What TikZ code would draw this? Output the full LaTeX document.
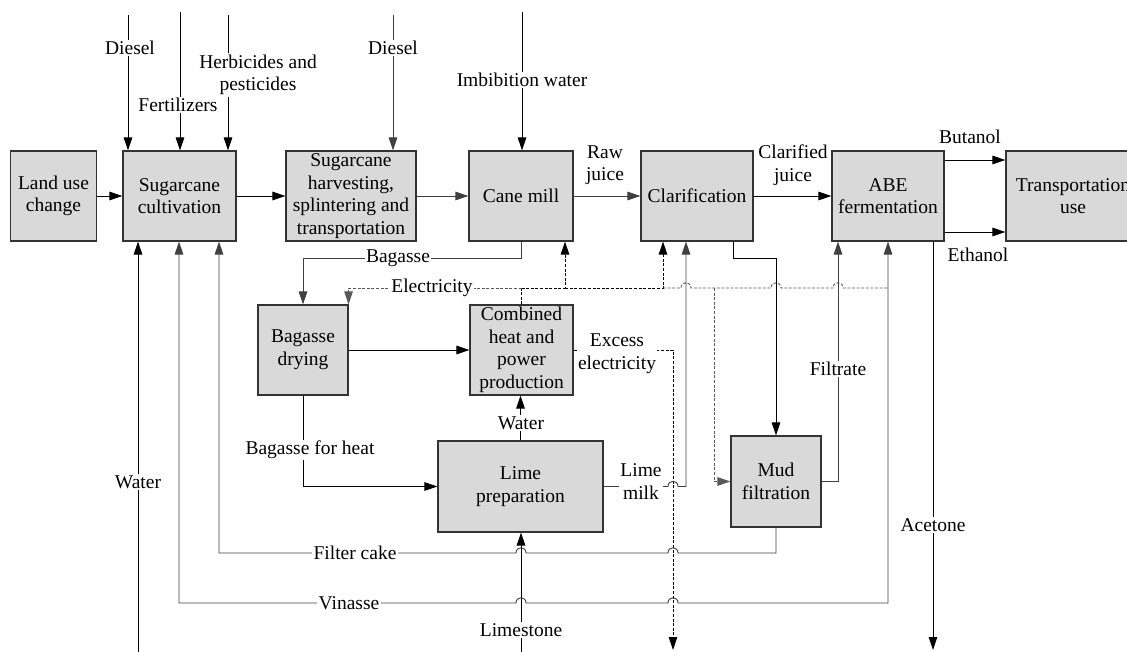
\documentclass[tikz,border=0pt]{standalone}
\usepackage{fontspec}
\setmainfont{Liberation Serif}
\usetikzlibrary{arrows.meta}
\newcommand\dfs{\fontsize{19.5pt}{22.6pt}\selectfont}
\begin{document}
\begin{tikzpicture}[x=1pt,y=-1pt,
  box/.style={draw=black!80, fill=black!15, line width=1.1pt, align=center, inner sep=0pt, font=\dfs},
  lbl/.style={fill=white, inner sep=1.5pt, align=center, font=\dfs},
  txt/.style={inner sep=0pt, align=center, font=\dfs},
  ar/.style={-{Triangle[length=13pt,width=8.5pt]}},
  twoar/.style={{Triangle[length=13pt,width=8.5pt]}-{Triangle[length=13pt,width=8.5pt]}},
  ln/.style={line width=0.9pt, draw=black},
  gln/.style={line width=0.9pt, draw=black!75},
  el/.style={line width=0.9pt, dash pattern=on 3pt off 1.6pt},
]
\useasboundingbox (0,0) rectangle (1127,652);

% process boxes
\node[box, minimum width=86pt, minimum height=90pt] (land) at (53.5,196) {Land use\\change};
\node[box, minimum width=113pt, minimum height=90pt] (cult) at (179.5,196) {Sugarcane\\cultivation};
\node[box, minimum width=130pt, minimum height=90pt] (harv) at (351,196) {Sugarcane\\harvesting,\\splintering and\\transportation};
\node[box, minimum width=104pt, minimum height=90pt] (mill) at (521,196) {Cane mill};
\node[box, minimum width=112pt, minimum height=90pt] (clar) at (697,196) {Clarification};
\node[box, minimum width=112pt, minimum height=90pt] (abe) at (888,196) {ABE\\fermentation};
\node[box, minimum width=134pt, minimum height=90pt] (trans) at (1073,196) {Transportation\\use};
\node[box, minimum width=90pt, minimum height=90pt] (dry) at (303,350) {Bagasse\\drying};
\node[box, minimum width=103pt, minimum height=90pt] (chp) at (521.5,350) {Combined\\heat and\\power\\production};
\node[box, minimum width=165pt, minimum height=91pt] (lime) at (520.5,486.5) {Lime\\preparation};
\node[box, minimum width=90pt, minimum height=91pt] (mud) at (776,481.5) {Mud\\filtration};

% free ends
\coordinate (inD1) at (128,15);
\coordinate (inF) at (180,12);
\coordinate (inH) at (228,15);
\coordinate (inD2) at (393,15);
\coordinate (inI) at (522,12);
\coordinate (outW) at (138,652);
\coordinate (inLs) at (521,652);
\coordinate (outEx) at (673,650);
\coordinate (outAc) at (933,650);

% main line
\draw[ln,ar] (land) -- (cult);
\draw[ln,ar] (cult) -- (harv);
\draw[gln,ar] (harv) -- (mill);
\draw[gln,ar] (mill) -- (clar);
\draw[ln,ar] (clar) -- (abe);
\draw[ln,ar] (abe.east |- 0,160) -- (trans.west |- 0,160);
\draw[ln,ar] (abe.east |- 0,232) -- (trans.west |- 0,232);

% top inputs
\draw[ln,ar] (inD1) -- (inD1 |- cult.north);
\draw[ln,ar] (inF) -- (inF |- cult.north);
\draw[ln,ar] (inH) -- (inH |- cult.north);
\draw[gln,ar] (inD2) -- (inD2 |- harv.north);
\draw[ln,ar] (inI) -- (inI |- mill.north);

% bagasse
\draw[gln,ar] (mill.south) -- (mill.south |- 0,258) -- (dry.north |- 0,258) -- (dry.north);

% electricity network
\draw[el,black] (chp.north) -- (chp.north |- 0,288) coordinate (eb);
\draw[el,black!65,ar] (eb) -- (dry.north east |- 0,288) -- (dry.north east);
\draw[el,black,ar] (eb) -- (565,288) -- (mill.south -| 565,0);
\draw[el,black,ar] (565,288) -- (663,288) -- (clar.south -| 663,0);
\draw[el,black!65] (663,288) -- (681,288) .. controls (681,281) and (691,281) .. (691,288)
  -- (771,288) .. controls (771,281) and (781,281) .. (781,288)
  -- (833,288) .. controls (833,281) and (843,281) .. (843,288) -- (888,288);
\draw[el,black!65,ar] (714,288) -- (714,481.5) -- (mud.west);

% excess electricity
\draw[el,black,ar] (chp.east) -- (chp.east -| outEx) -- (outEx);

% bagasse drying to CHP and lime
\draw[ln,ar] (dry) -- (chp);
\draw[ln,ar] (dry.south) -- (dry.south |- lime.west) -- (lime.west);
\draw[ln,ar] (lime.north) -- (lime.north |- chp.south);
\draw[ln,ar] (inLs) -- (inLs |- lime.south);

% lime milk
\draw[gln,ar] (lime.east) -- (668,486.5) .. controls (668,479.5) and (678,479.5) .. (678,486.5)
  -- (686,486.5) -- (clar.south -| 686,0);

% clarification to mud filtration
\draw[ln,ar] (clar.south -| 733,0) -- (733,258) -- (mud.north |- 0,258) -- (mud.north);

% filtrate
\draw[gln,ar] (mud.east) -- (838,481.5) -- (abe.south -| 838,0);

% filter cake
\draw[gln,ar] (mud.south) -- (776,553) -- (678,553) .. controls (678,546) and (668,546) .. (668,553)
  -- (526,553) .. controls (526,546) and (516,546) .. (516,553) -- (219,553) -- (cult.south -| 219,0);

% vinasse
\draw[gln,twoar] (abe.south -| 888,0) -- (888,603) -- (678,603) .. controls (678,596) and (668,596) .. (668,603)
  -- (526,603) .. controls (526,596) and (516,596) .. (516,603) -- (179,603) -- (cult.south -| 179,0);

% water and acetone
\draw[ln,ar] (outW) -- (outW |- cult.south);
\draw[ln,ar] (abe.south -| outAc) -- (outAc);

% labels
\node[lbl] (lD1) at (130,48) {Diesel};
\node[lbl] (lF) at (178,105) {Fertilizers};
\node[lbl] (lH) at (258,75) {Herbicides and\\pesticides};
\node[lbl] (lD2) at (393,48) {Diesel};
\node[lbl] (lI) at (522,80) {Imbibition water};
\node[txt] (lRaw) at (605,165) {Raw\\juice};
\node[txt] (lCj) at (793,165) {Clarified\\juice};
\node[txt] (lBu) at (970,137) {Butanol};
\node[txt] (lEt) at (978,255) {Ethanol};
\node[lbl] (lBag) at (398,258) {Bagasse};
\node[lbl] (lEl) at (432,288) {Electricity};
\node[lbl] (lEx) at (617,353.5) {Excess\\electricity};
\node[lbl] (lBh) at (310,450) {Bagasse for heat};
\node[lbl] (lWl) at (521,423) {Water};
\node[lbl] (lLs) at (521,630) {Limestone};
\node[lbl] (lLm) at (641,481.5) {Lime\\milk};
\node[lbl] (lFi) at (838,369) {Filtrate};
\node[lbl] (lFc) at (355,553) {Filter cake};
\node[lbl] (lVi) at (349,603) {Vinasse};
\node[lbl] (lW) at (138,482) {Water};
\node[lbl] (lAc) at (933,525) {Acetone};
\end{tikzpicture}
\end{document}
